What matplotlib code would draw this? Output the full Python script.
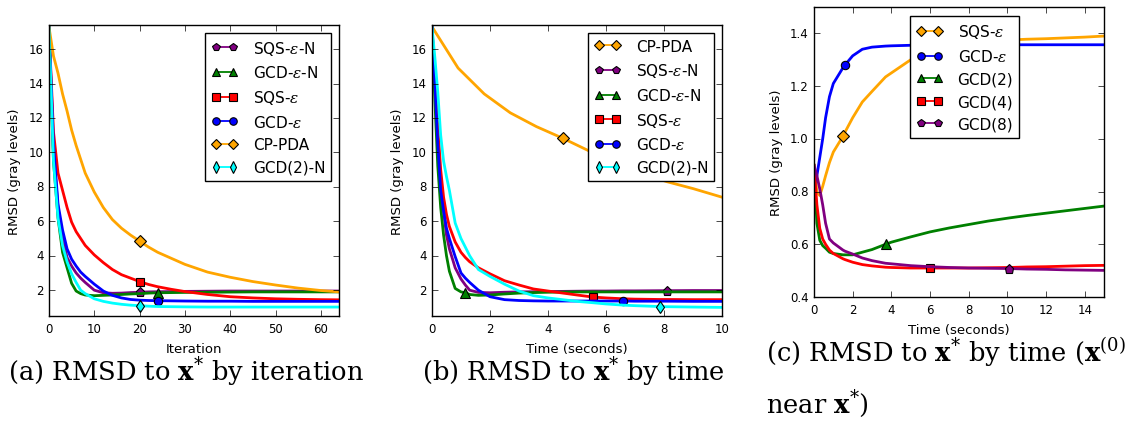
import numpy as np
import matplotlib
matplotlib.use("Agg")
import matplotlib.pyplot as plt
from matplotlib.lines import Line2D

plt.style.use('classic')
plt.rcParams['mathtext.fontset'] = 'dejavuserif'

# ---- panel (a): RMSD by iteration
it_x = [0, 1, 2, 3, 4, 5, 6, 7, 8, 10, 12, 14, 16, 18, 20, 22, 24, 27, 30, 35, 40, 45, 50, 55, 60, 64]
a_cppda = [17.3, 15.6, 14.6, 13.4, 12.4, 11.3, 10.4, 9.6, 8.8, 7.7, 6.8, 6.1, 5.6, 5.2, 4.85, 4.5, 4.2, 3.85, 3.5, 3.05, 2.75, 2.5, 2.3, 2.12, 1.98, 1.9]
a_sqs = [17.3, 11.2, 8.8, 7.8, 6.8, 5.95, 5.4, 5.0, 4.6, 4.05, 3.6, 3.2, 2.9, 2.7, 2.5, 2.33, 2.2, 2.05, 1.92, 1.75, 1.62, 1.55, 1.5, 1.47, 1.45, 1.44]
a_gcd = [17.3, 10.5, 7.0, 5.5, 4.4, 3.8, 3.4, 3.05, 2.8, 2.35, 1.95, 1.7, 1.55, 1.46, 1.42, 1.4, 1.39, 1.38, 1.37, 1.36, 1.36, 1.35, 1.35, 1.35, 1.35, 1.35]
a_sqsn = [17.3, 10.0, 6.8, 5.0, 3.9, 3.4, 3.0, 2.7, 2.45, 2.0, 1.85, 1.82, 1.83, 1.86, 1.88, 1.9, 1.91, 1.92, 1.93, 1.94, 1.95, 1.95, 1.95, 1.95, 1.95, 1.95]
a_gcdn = [17.3, 9.5, 6.2, 4.2, 3.3, 2.4, 1.95, 1.8, 1.72, 1.68, 1.7, 1.72, 1.75, 1.78, 1.8, 1.83, 1.85, 1.86, 1.87, 1.88, 1.89, 1.9, 1.9, 1.9, 1.9, 1.9]
a_gcd2n = [17.3, 9.5, 6.2, 4.6, 3.65, 2.95, 2.45, 2.0, 1.8, 1.5, 1.35, 1.25, 1.18, 1.13, 1.1, 1.07, 1.05, 1.04, 1.03, 1.02, 1.02, 1.02, 1.02, 1.02, 1.02, 1.02]

# ---- panel (b): RMSD by time
tb_x = [0, 0.1, 0.2, 0.3, 0.4, 0.5, 0.6, 0.8, 1.0, 1.15, 1.3, 1.6, 2.0, 2.5, 3.0, 3.5, 4.0, 5.0, 5.55, 6.0, 6.6, 7.0, 7.85, 8.1, 9.0, 10.0]
b_sqsn = [17.3, 14.0, 10.5, 8.2, 6.6, 5.2, 4.4, 3.3, 2.65, 2.3, 2.0, 1.87, 1.85, 1.88, 1.9, 1.91, 1.92, 1.94, 1.95, 1.95, 1.96, 1.96, 1.97, 1.97, 1.98, 1.98]
b_gcdn = [17.3, 13.0, 9.2, 6.8, 5.2, 4.0, 3.1, 2.1, 1.9, 1.85, 1.75, 1.7, 1.72, 1.78, 1.83, 1.86, 1.88, 1.9, 1.9, 1.9, 1.9, 1.9, 1.9, 1.9, 1.9, 1.9]
b_sqs = [17.3, 14.5, 11.5, 9.0, 7.4, 6.4, 5.7, 4.8, 4.2, 3.9, 3.65, 3.3, 2.95, 2.55, 2.3, 2.07, 1.95, 1.72, 1.6, 1.55, 1.5, 1.48, 1.46, 1.46, 1.45, 1.45]
b_gcd = [17.3, 14.0, 10.5, 7.8, 6.6, 5.6, 5.0, 3.95, 3.0, 2.7, 2.45, 2.0, 1.62, 1.45, 1.4, 1.38, 1.37, 1.37, 1.37, 1.37, 1.37, 1.36, 1.36, 1.36, 1.35, 1.35]
b_gcd2n = [17.3, 15.5, 13.5, 11.0, 9.5, 8.6, 7.8, 5.9, 5.0, 4.5, 4.0, 3.2, 2.8, 2.35, 1.95, 1.68, 1.55, 1.35, 1.27, 1.2, 1.13, 1.1, 1.05, 1.04, 1.02, 1.0]
tb_cp = [0, 0.9, 1.8, 2.7, 3.6, 4.5, 5.4, 6.3, 7.2, 8.1, 9.0, 10.0]
b_cppda = [17.3, 14.9, 13.4, 12.3, 11.5, 10.83, 10.1, 9.4, 8.8, 8.3, 7.9, 7.4]

# ---- panel (c): RMSD by time, x(0) near x*
tc_x = [0, 0.15, 0.3, 0.45, 0.6, 0.8, 1.0, 1.5, 1.6, 2.0, 2.5, 3.0, 3.7, 4.0, 5.0, 6.0, 7.0, 8.0, 9.0, 10.1, 11.0, 12.0, 13.0, 14.0, 15.0]
c_sqs = [0.9, 0.8, 0.785, 0.82, 0.86, 0.91, 0.95, 1.01, 1.025, 1.08, 1.14, 1.18, 1.235, 1.25, 1.3, 1.33, 1.35, 1.36, 1.368, 1.375, 1.378, 1.38, 1.383, 1.386, 1.39]
c_gcd = [0.82, 0.86, 0.93, 1.0, 1.08, 1.16, 1.21, 1.27, 1.28, 1.315, 1.34, 1.348, 1.352, 1.353, 1.355, 1.356, 1.356, 1.357, 1.357, 1.357, 1.357, 1.357, 1.357, 1.357, 1.357]
c_gcd2 = [0.9, 0.68, 0.615, 0.595, 0.585, 0.57, 0.565, 0.56, 0.56, 0.56, 0.57, 0.58, 0.6, 0.608, 0.628, 0.647, 0.662, 0.675, 0.688, 0.7, 0.709, 0.718, 0.727, 0.736, 0.745]
c_gcd4 = [0.9, 0.75, 0.66, 0.62, 0.6, 0.578, 0.565, 0.545, 0.542, 0.532, 0.523, 0.518, 0.513, 0.512, 0.51, 0.51, 0.51, 0.51, 0.511, 0.512, 0.514, 0.515, 0.517, 0.519, 0.52]
c_gcd8 = [0.9, 0.86, 0.81, 0.75, 0.68, 0.62, 0.605, 0.578, 0.574, 0.563, 0.548, 0.538, 0.528, 0.526, 0.519, 0.515, 0.512, 0.51, 0.509, 0.508, 0.506, 0.505, 0.503, 0.502, 0.501]

PURPLE, GREEN, RED, BLUE, ORANGE, CYAN = '#800080', '#008000', '#ff0000', '#0000ff', '#ffa500', '#00ffff'
MS = {'o': 6, 's': 6, 'D': 5.7, 'd': 6.5, '^': 6.5, 'p': 6.5}


def curve(ax, x, y, color, marker, label, mx):
    idx = [list(x).index(mx)]
    ax.plot(x, y, color=color, lw=2, marker=marker, markevery=idx, ms=MS[marker],
            mfc=color, mec='k', mew=0.8, label=label)


def add_legend(ax, **kw):
    # legend handles in the reference use thinner lines
    handles = [Line2D([], [], color=l.get_color(), lw=1.3, marker=l.get_marker(),
                      ms=l.get_markersize() * 0.9, mfc=l.get_color(), mec='k', mew=0.8)
               for l in ax.get_lines()]
    labels = [l.get_label() for l in ax.get_lines()]
    ax.legend(handles, labels, fontsize=11, numpoints=2, handlelength=1.7,
              handletextpad=1.0, **kw)


def style(ax):
    ax.tick_params(labelsize=8.5)
    ax.set_ylabel('RMSD (gray levels)', fontsize=9.5)


fig = plt.figure(figsize=(11.41, 4.27), dpi=100)
fig.patch.set_facecolor('white')

ax1 = fig.add_axes([0.0429, 0.2576, 0.2542, 0.6815])
curve(ax1, it_x, a_sqsn, PURPLE, 'p', r'SQS-$\epsilon$-N', 20)
curve(ax1, it_x, a_gcdn, GREEN, '^', r'GCD-$\epsilon$-N', 24)
curve(ax1, it_x, a_sqs, RED, 's', r'SQS-$\epsilon$', 20)
curve(ax1, it_x, a_gcd, BLUE, 'o', r'GCD-$\epsilon$', 24)
curve(ax1, it_x, a_cppda, ORANGE, 'D', 'CP-PDA', 20)
curve(ax1, it_x, a_gcd2n, CYAN, 'd', 'GCD(2)-N', 20)
ax1.set_xlim(0, 64)
ax1.set_ylim(0.5, 17.4)
ax1.set_yticks([2, 4, 6, 8, 10, 12, 14, 16])
ax1.set_xlabel('Iteration', fontsize=9.5)
style(ax1)
add_legend(ax1, loc='upper right')

ax2 = fig.add_axes([0.3786, 0.2576, 0.2542, 0.6815])
curve(ax2, tb_cp, b_cppda, ORANGE, 'D', 'CP-PDA', 4.5)
curve(ax2, tb_x, b_sqsn, PURPLE, 'p', r'SQS-$\epsilon$-N', 8.1)
curve(ax2, tb_x, b_gcdn, GREEN, '^', r'GCD-$\epsilon$-N', 1.15)
curve(ax2, tb_x, b_sqs, RED, 's', r'SQS-$\epsilon$', 5.55)
curve(ax2, tb_x, b_gcd, BLUE, 'o', r'GCD-$\epsilon$', 6.6)
curve(ax2, tb_x, b_gcd2n, CYAN, 'd', 'GCD(2)-N', 7.85)
ax2.set_xlim(0, 10)
ax2.set_ylim(0.5, 17.4)
ax2.set_yticks([2, 4, 6, 8, 10, 12, 14, 16])
ax2.set_xlabel('Time (seconds)', fontsize=9.5)
style(ax2)
add_legend(ax2, loc='upper right')

ax3 = fig.add_axes([0.7134, 0.3021, 0.2542, 0.679])
curve(ax3, tc_x, c_sqs, ORANGE, 'D', r'SQS-$\epsilon$', 1.5)
curve(ax3, tc_x, c_gcd, BLUE, 'o', r'GCD-$\epsilon$', 1.6)
curve(ax3, tc_x, c_gcd2, GREEN, '^', 'GCD(2)', 3.7)
curve(ax3, tc_x, c_gcd4, RED, 's', 'GCD(4)', 6.0)
curve(ax3, tc_x, c_gcd8, PURPLE, 'p', 'GCD(8)', 10.1)
ax3.set_xlim(0, 15)
ax3.set_ylim(0.4, 1.5)
ax3.set_yticks([0.4, 0.6, 0.8, 1.0, 1.2, 1.4])
ax3.set_xlabel('Time (seconds)', fontsize=9.5)
style(ax3)
add_legend(ax3, loc='upper center', bbox_to_anchor=(0.52, 0.995))

cap = dict(fontsize=18.5, family='DejaVu Serif', va='center')
fig.text(0.007, 0.13, r'(a) RMSD to $\mathbf{x}^{*}$ by iteration', ha='left', **cap)
fig.text(0.37, 0.13, r'(b) RMSD to $\mathbf{x}^{*}$ by time', ha='left', **cap)
fig.text(0.671, 0.175, r'(c) RMSD to $\mathbf{x}^{*}$ by time ($\mathbf{x}^{(0)}$', ha='left', **cap)
fig.text(0.671, 0.055, r'near $\mathbf{x}^{*}$)', ha='left', **cap)

fig.savefig('out.png', dpi=100, facecolor='white')
